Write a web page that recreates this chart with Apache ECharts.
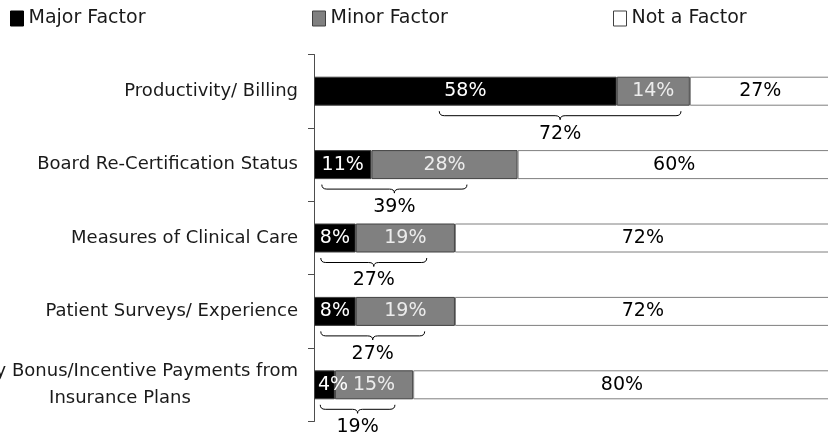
<!DOCTYPE html>
<html>
<head>
<meta charset="utf-8">
<script src="https://cdn.jsdelivr.net/npm/echarts@6/dist/echarts.min.js"></script>
<style>
  html, body { margin: 0; padding: 0; background: #fff; }
  #chart { width: 828px; height: 438px; }
</style>
</head>
<body>
<div id="chart"></div>
<script>
// Survey: how much each measure factors into physician compensation
const categories = [
  'Productivity/ Billing',
  'Board Re-Certification Status',
  'Measures of Clinical Care',
  'Patient Surveys/ Experience',
  'Quality Bonus/Incentive Payments from\nInsurance Plans'
];
const majorFactor = [58, 11, 8, 8, 4];
const minorFactor = [14, 28, 19, 19, 15];
const notAFactor = [27, 60, 72, 72, 80];

// Horizontal extent (in %) of the brace drawn under each bar
const braceFrom = [24, 1.5, 1.3, 1.3, 1.2];
const braceTo = [70.3, 29.3, 21.6, 21.2, 15.5];

const FONT = 'DejaVu Sans';
const VALUE_SIZE = 19;

const braceData = categories.map((c, i) => [
  braceFrom[i], braceTo[i], i, majorFactor[i] + minorFactor[i]
]);

// Segments too narrow for a centred label get it pinned near the left edge
const majorData = majorFactor.map(v =>
  v < 6 ? { value: v, label: { position: 'insideLeft', distance: 4 } } : v
);

function renderBrace(params, api) {
  const p1 = api.coord([api.value(0), api.value(2)]);
  const p2 = api.coord([api.value(1), api.value(2)]);
  const cy = p1[1];
  const a = p1[0], b = p2[0], c = (a + b) / 2;
  const top = cy + 20, mid = cy + 24.5, tip = cy + 28.5, r = 5;
  const d = [
    'M', a, top,
    'Q', a, mid, a + r, mid,
    'L', c - r, mid,
    'Q', c, mid, c, tip,
    'Q', c, mid, c + r, mid,
    'L', b - r, mid,
    'Q', b, mid, b, top
  ].join(' ');
  return {
    type: 'group',
    children: [
      {
        type: 'path',
        shape: { pathData: d },
        style: { stroke: '#000', fill: 'none', lineWidth: 1 }
      },
      {
        type: 'text',
        style: {
          text: api.value(3) + '%',
          x: c, y: cy + 42.5,
          align: 'center', verticalAlign: 'middle',
          fill: '#000', fontSize: VALUE_SIZE, fontFamily: FONT
        }
      }
    ]
  };
}

const legendBase = {
  top: 9,
  padding: 0,
  icon: 'rect',
  itemWidth: 13,
  itemHeight: 15,
  selectedMode: false,
  textStyle: { fontSize: 19, color: '#1a1a1a', fontFamily: FONT }
};

const option = {
  animation: false,
  textStyle: { fontFamily: FONT },
  legend: [
    Object.assign({}, legendBase, {
      left: 10,
      data: [{ name: 'Major Factor', itemStyle: { color: '#000', borderColor: '#000', borderWidth: 1 } }]
    }),
    Object.assign({}, legendBase, {
      left: 312,
      data: [{ name: 'Minor Factor', itemStyle: { color: '#808080', borderColor: '#404040', borderWidth: 1 } }]
    }),
    Object.assign({}, legendBase, {
      left: 613,
      data: [{ name: 'Not a Factor', itemStyle: { color: '#fff', borderColor: '#404040', borderWidth: 1 } }]
    })
  ],
  grid: {
    left: 314, top: 54.5, width: 522, height: 367,
    containLabel: false,
    outerBoundsMode: 'none'
  },
  xAxis: {
    type: 'value',
    min: 0,
    max: 100,
    show: false
  },
  yAxis: {
    type: 'category',
    inverse: true,
    data: categories,
    axisLine: { show: true, lineStyle: { color: '#4d4d4d', width: 1 } },
    axisTick: { show: true, length: 6, lineStyle: { color: '#4d4d4d' } },
    axisLabel: {
      interval: 0,
      margin: 16,
      formatter: v => '{c|' + v + '}',
      rich: {
        c: {
          align: 'center',
          fontSize: 18,
          lineHeight: 27,
          color: '#1a1a1a',
          fontFamily: FONT
        }
      }
    }
  },
  series: [
    {
      name: 'Major Factor',
      type: 'bar',
      stack: 'total',
      barWidth: 29,
      data: majorData,
      itemStyle: { color: '#000', borderColor: '#404040', borderWidth: 1 },
      label: {
        show: true, position: 'inside', formatter: '{c}%',
        color: '#fff', fontSize: VALUE_SIZE, fontFamily: FONT
      }
    },
    {
      name: 'Minor Factor',
      type: 'bar',
      stack: 'total',
      data: minorFactor,
      itemStyle: { color: '#808080', borderColor: '#404040', borderWidth: 1 },
      label: {
        show: true, position: 'inside', formatter: '{c}%',
        color: '#ececec', fontSize: VALUE_SIZE, fontFamily: FONT
      }
    },
    {
      name: 'Not a Factor',
      type: 'bar',
      stack: 'total',
      data: notAFactor,
      itemStyle: { color: '#fff', borderColor: '#7f7f7f', borderWidth: 1 },
      label: {
        show: true, position: 'inside', formatter: '{c}%',
        color: '#000', fontSize: VALUE_SIZE, fontFamily: FONT
      }
    },
    {
      name: 'Combined',
      type: 'custom',
      clip: false,
      silent: true,
      renderItem: renderBrace,
      encode: { x: [0, 1], y: 2 },
      data: braceData,
      z: 5
    }
  ]
};

const chart = echarts.init(document.getElementById('chart'), null, { renderer: 'canvas' });
chart.setOption(option);
</script>
</body>
</html>
